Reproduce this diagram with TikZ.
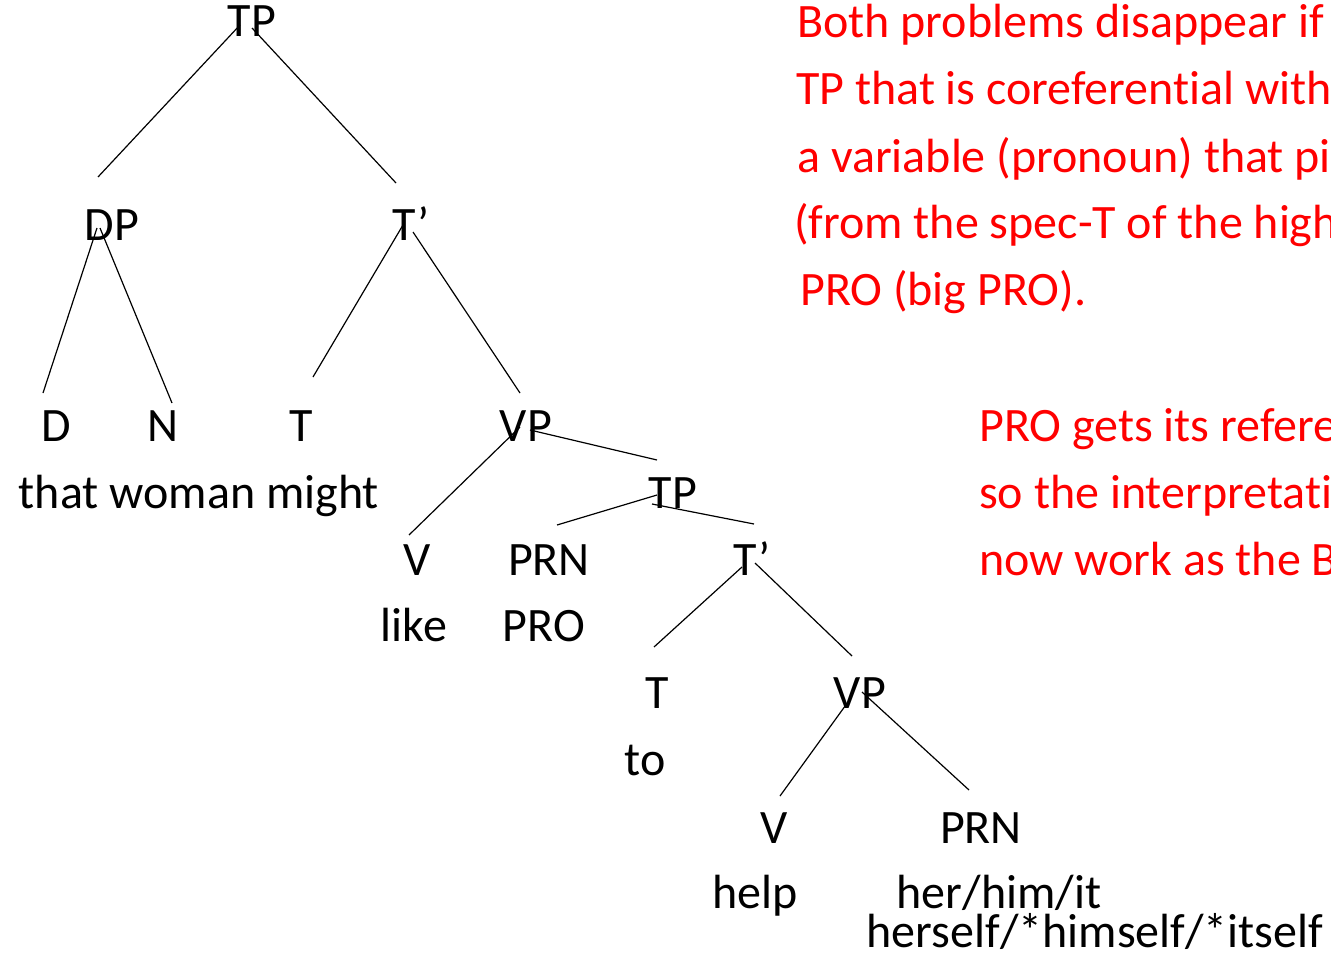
\documentclass[tikz,border=0pt]{standalone}
\usepackage{fontspec}
\setmainfont{Carlito}[Ligatures=NoCommon]
\begin{document}
\begin{tikzpicture}[x=1pt,y=-1pt,
  lbl/.style={inner sep=0pt,anchor=base,font=\fontsize{48}{58}\selectfont},
  note/.style={inner sep=0pt,anchor=base west,text=red,font=\fontsize{48}{58}\selectfont},
  branch/.style={line width=1.2pt}]
\useasboundingbox (0,0) rectangle (1331,955);
\clip (0,0) rectangle (1331,955);

% tree labels
\node[lbl] (tp1)  at (252,37)  {TP};
\node[lbl] (dp)   at (112,240) {DP};
\node[lbl] (tb1)  at (411,240) {T’};
\node[lbl] (d)    at (56,441)  {D};
\node[lbl] (n)    at (163,441) {N};
\node[lbl] (t1)   at (301,441) {T};
\node[lbl] (vp1)  at (526,441) {VP};
\node[lbl] (words) at (199,508) {that woman might};
\node[lbl] (tp2)  at (673,508) {TP};
\node[lbl] (v1)   at (417,575) {V};
\node[lbl] (prn1) at (549,575) {PRN};
\node[lbl] (tb2)  at (752,575) {T’};
\node[lbl] (like) at (414,641) {like};
\node[lbl] (pro)  at (544,641) {PRO};
\node[lbl] (t2)   at (657,708) {T};
\node[lbl] (vp2)  at (860,708) {VP};
\node[lbl] (to)   at (645,775) {to};
\node[lbl] (v2)   at (774,843) {V};
\node[lbl] (prn2) at (981,843) {PRN};
\node[lbl] (help) at (755,908) {help};
\node[lbl] (hhi)  at (999,908) {her/him/it};
\node[lbl] (refl) at (1095,947) {herself/*himself/*itself};

% branches
\draw[branch] ([shift={(-12,-12)}]tp1.base) -- ([shift={(-14,-63)}]dp.base);
\draw[branch] ([shift={(0,-9)}]tp1.base)    -- ([shift={(-15,-57)}]tb1.base);
\draw[branch] ([shift={(-15,-12)}]dp.base)  -- ([shift={(-13,-48)}]d.base);
\draw[branch] ([shift={(-12,-12)}]dp.base)  -- ([shift={(9,-38)}]n.base);
\draw[branch] ([shift={(-8,-15)}]tb1.base)  -- ([shift={(12,-64)}]t1.base);
\draw[branch] ([shift={(2,-8)}]tb1.base)    -- ([shift={(-6,-48)}]vp1.base);
\draw[branch] ([shift={(-6,-14)}]vp1.base)  -- ([shift={(-8,-40)}]v1.base);
\draw[branch] ([shift={(4,-11)}]vp1.base)   -- ([shift={(-16,-48)}]tp2.base);
\draw[branch] ([shift={(-16,-13)}]tp2.base) -- ([shift={(8,-50)}]prn1.base);
\draw[branch] ([shift={(-21,-4)}]tp2.base)  -- ([shift={(2,-51)}]tb2.base);
\draw[branch] ([shift={(-10,-8)}]tb2.base)  -- ([shift={(-3,-61)}]t2.base);
\draw[branch] ([shift={(3,-12)}]tb2.base)   -- ([shift={(-8,-52)}]vp2.base);
\draw[branch] ([shift={(-12,-6)}]vp2.base)  -- ([shift={(6,-47)}]v2.base);
\draw[branch] ([shift={(2,-16)}]vp2.base)   -- ([shift={(-12,-53)}]prn2.base);

% red commentary
\node[note] (c1) at (797,38)  {Both problems disappear if};
\node[note] (c2) at (796,105) {TP that is coreferential with};
\node[note] (c3) at (797,172) {a variable (pronoun) that pi};
\node[note] (c4) at (794,238) {(from the spec-T of the high};
\node[note] (c5) at (800,305) {PRO (big PRO).};
\node[note] (c6) at (979,441) {PRO gets its refere};
\node[note] (c7) at (979,508) {so the interpretati};
\node[note] (c8) at (979,575) {now work as the B};
\end{tikzpicture}
\end{document}
